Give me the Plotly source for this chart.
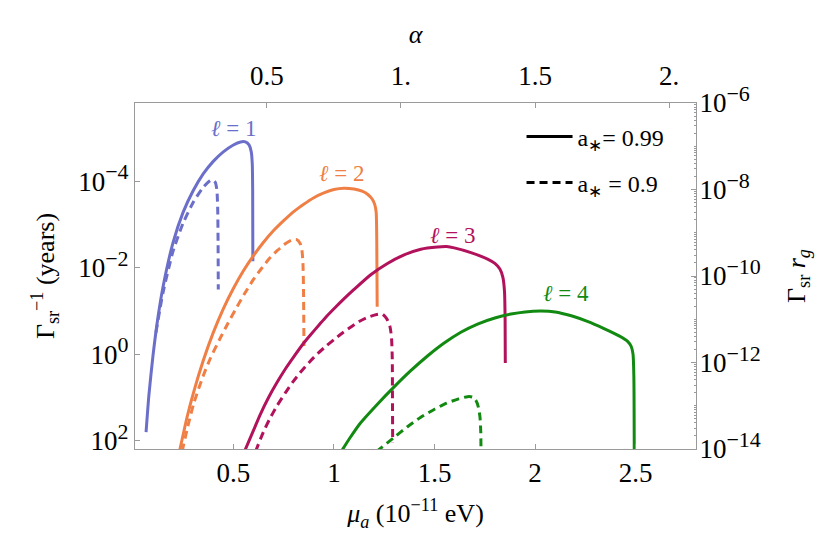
import numpy as np
import plotly.graph_objects as go

# ---------------- data ----------------
# mu_a in units of 1e-11 eV ; *_lg values are log10 of Gamma_sr^-1 in years
l1_solid_mu = [0.066, 0.080, 0.100, 0.125, 0.150, 0.200, 0.250, 0.300, 0.350, 0.400, 0.450, 0.500, 0.536, 0.560, 0.578, 0.589, 0.594, 0.596, 0.597]
l1_solid_lg = [1.80, 0.95, 0.05, -0.85, -1.55, -2.58, -3.28, -3.78, -4.17, -4.46, -4.68, -4.84, -4.91, -4.91, -4.84, -4.68, -4.40, -3.80, -2.15]

l1_dash_mu = [0.115, 0.150, 0.200, 0.250, 0.300, 0.350, 0.380, 0.396, 0.410, 0.418, 0.422, 0.424, 0.425]
l1_dash_lg = [-0.50, -1.42, -2.38, -3.03, -3.51, -3.86, -4.00, -4.04, -3.98, -3.80, -3.40, -2.60, -1.50]

l2_solid_mu = [0.232, 0.270, 0.304, 0.350, 0.400, 0.450, 0.500, 0.550, 0.600, 0.650, 0.700, 0.750, 0.800, 0.850, 0.900, 0.950, 1.000, 1.050, 1.100, 1.140, 1.167, 1.190, 1.203, 1.210, 1.213, 1.215]
l2_solid_lg = [2.25, 1.45, 0.85, 0.15, -0.50, -1.05, -1.52, -1.93, -2.28, -2.59, -2.86, -3.09, -3.30, -3.47, -3.62, -3.73, -3.81, -3.84, -3.82, -3.77, -3.70, -3.59, -3.46, -3.28, -2.60, -1.10]

l2_dash_mu = [0.245, 0.275, 0.304, 0.350, 0.387, 0.430, 0.470, 0.510, 0.553, 0.600, 0.636, 0.680, 0.719, 0.760, 0.790, 0.815, 0.832, 0.841, 0.846, 0.849, 0.851]
l2_dash_lg = [2.25, 1.64, 1.12, 0.50, 0.08, -0.33, -0.69, -1.03, -1.38, -1.73, -1.96, -2.22, -2.40, -2.56, -2.64, -2.65, -2.56, -2.40, -2.10, -1.40, -0.19]

l3_solid_mu = [0.555, 0.600, 0.633, 0.675, 0.716, 0.760, 0.800, 0.850, 0.882, 0.930, 0.964, 1.010, 1.047, 1.100, 1.183, 1.266, 1.349, 1.432, 1.515, 1.560, 1.598, 1.681, 1.764, 1.800, 1.825, 1.840, 1.848, 1.851, 1.852]
l3_solid_lg = [2.25, 1.76, 1.40, 1.00, 0.66, 0.33, 0.06, -0.26, -0.44, -0.70, -0.88, -1.10, -1.27, -1.50, -1.84, -2.10, -2.30, -2.43, -2.48, -2.49, -2.46, -2.35, -2.20, -2.10, -1.97, -1.78, -1.45, -0.80, 0.20]

l3_dash_mu = [0.610, 0.649, 0.680, 0.716, 0.760, 0.799, 0.840, 0.882, 0.920, 0.964, 1.000, 1.047, 1.090, 1.130, 1.170, 1.213, 1.240, 1.263, 1.278, 1.286, 1.290, 1.291, 1.292]
l3_dash_lg = [2.25, 1.80, 1.50, 1.20, 0.88, 0.62, 0.38, 0.16, -0.02, -0.20, -0.34, -0.51, -0.65, -0.77, -0.86, -0.92, -0.93, -0.82, -0.65, -0.40, 0.10, 1.00, 2.04]

l4_solid_mu = [1.036, 1.080, 1.130, 1.215, 1.298, 1.382, 1.465, 1.548, 1.631, 1.714, 1.800, 1.880, 1.950, 2.029, 2.100, 2.180, 2.260, 2.340, 2.420, 2.460, 2.478, 2.487, 2.491, 2.493]
l4_solid_lg = [2.25, 1.93, 1.60, 1.16, 0.76, 0.38, 0.04, -0.26, -0.51, -0.70, -0.84, -0.93, -0.98, -1.00, -0.98, -0.89, -0.76, -0.60, -0.42, -0.30, -0.18, 0.00, 0.50, 2.25]

l4_dash_mu = [1.211, 1.300, 1.364, 1.430, 1.500, 1.560, 1.620, 1.664, 1.690, 1.706, 1.718, 1.726, 1.730, 1.731]
l4_dash_lg = [2.25, 1.92, 1.68, 1.46, 1.27, 1.13, 1.03, 0.98, 0.99, 1.07, 1.22, 1.45, 1.80, 2.25]

series = [
    ("l1", l1_solid_mu, l1_solid_lg, l1_dash_mu, l1_dash_lg, "#6B6FC9"),
    ("l2", l2_solid_mu, l2_solid_lg, l2_dash_mu, l2_dash_lg, "#EF7F45"),
    ("l3", l3_solid_mu, l3_solid_lg, l3_dash_mu, l3_dash_lg, "#B2125B"),
    ("l4", l4_solid_mu, l4_solid_lg, l4_dash_mu, l4_dash_lg, "#128A12"),
]

labels = ["<i>ℓ</i> = 1", "<i>ℓ</i> = 2", "<i>ℓ</i> = 3", "<i>ℓ</i> = 4"]
label_mu = [0.505, 1.042, 1.59, 2.152]
label_lg = [-5.23, -4.19, -2.74, -1.40]

bottom_ticks = [0.5, 1, 1.5, 2, 2.5]
bottom_ticktext = ["0.5", "1", "1.5", "2", "2.5"]
top_ticks = [0.5, 1, 1.5, 2]
top_ticktext = ["0.5", "1.", "1.5", "2."]
left_exps = [-4, -2, 0, 2]
right_exps = [-6, -8, -10, -12, -14]

alpha_per_mu = 0.75
mu_range = [0.011, 2.8]
left_range = [2.19, -5.81]
right_range = [-14, -6]

FONT = "Liberation Serif"
GRAY = "#9a9a9a"
DASH = "8px,5px"
TICK_SIZE = 27
TITLE_SIZE = 26
SUP_SIZE = 22


def pow10(e):
    sign = "−" if e < 0 else ""
    return "10<sup><span style='font-size:%dpx'>%s%d</span></sup>" % (SUP_SIZE, sign, abs(e))


fig = go.Figure()
for name, smu, slg, dmu, dlg, col in series:
    fig.add_trace(go.Scatter(x=smu, y=10.0 ** np.array(slg), mode="lines",
                             line=dict(color=col, width=3, shape="spline", smoothing=0.6),
                             showlegend=False, hoverinfo="skip"))
    fig.add_trace(go.Scatter(x=dmu, y=10.0 ** np.array(dlg), mode="lines",
                             line=dict(color=col, width=3, dash=DASH, shape="spline", smoothing=0.6),
                             showlegend=False, hoverinfo="skip"))

# legend entries
fig.add_trace(go.Scatter(x=[None], y=[None], mode="lines", line=dict(color="black", width=3),
                         name="a<sub>∗</sub>= 0.99", legend="legend"))
fig.add_trace(go.Scatter(x=[None], y=[None], mode="lines", line=dict(color="black", width=3, dash=DASH),
                         name="a<sub>∗</sub> = 0.9", legend="legend2"))

# anchor trace for the secondary (top / right) axes
fig.add_trace(go.Scatter(x=[1.0], y=[1e-10], xaxis="x2", yaxis="y2", mode="lines",
                         line=dict(width=0), showlegend=False, hoverinfo="skip"))

for txt, m, lg, (_, _, _, _, _, col) in zip(labels, label_mu, label_lg, series):
    fig.add_annotation(x=m, y=lg, xref="x", yref="y", text=txt, showarrow=False,
                       font=dict(family=FONT, size=23, color=col))

minor_vals = []
for d in range(-14, -6):
    for k in range(2, 10):
        minor_vals.append(k * 10.0 ** d)
    if d % 2 != 0:
        minor_vals.append(10.0 ** d)

axis_common = dict(showline=True, linecolor=GRAY, linewidth=1, showgrid=False, zeroline=False,
                   ticks="inside", ticklen=5, tickcolor=GRAY, tickwidth=1, automargin=False,
                   tickfont=dict(family=FONT, size=TICK_SIZE, color="black"))

fig.update_layout(
    width=830, height=539, autosize=False,
    margin=dict(l=127, r=142, t=95, b=98),
    paper_bgcolor="white", plot_bgcolor="white",
    font=dict(family=FONT, size=TICK_SIZE, color="black"),
    xaxis=dict(range=mu_range, tickmode="array", tickvals=bottom_ticks, ticktext=bottom_ticktext,
               title=dict(text="<i>μ<sub>a</sub></i> (10<sup>−11</sup> eV)", font=dict(family=FONT, size=TITLE_SIZE), standoff=16),
               **axis_common),
    xaxis2=dict(range=[mu_range[0] * alpha_per_mu, mu_range[1] * alpha_per_mu], overlaying="x", side="top",
                anchor="y", tickmode="array", tickvals=top_ticks, ticktext=top_ticktext,
                ticklabelstandoff=6,
                title=dict(text="<i>α</i>", font=dict(family=FONT, size=TITLE_SIZE), standoff=10),
                **axis_common),
    yaxis=dict(type="log", range=left_range, tickmode="array",
               tickvals=[10.0 ** e for e in left_exps],
               ticktext=[pow10(e) for e in left_exps],
               title=dict(text="Γ<sub>sr</sub><sup>−1</sup> (years)", font=dict(family=FONT, size=TITLE_SIZE), standoff=16),
               **axis_common),
    yaxis2=dict(type="log", range=right_range, overlaying="y", side="right", anchor="x",
                tickmode="array", tickvals=[10.0 ** e for e in right_exps],
                ticktext=[pow10(e) for e in right_exps],
                ticklabelstandoff=-3,
                minor=dict(tickmode="array", tickvals=minor_vals, ticks="inside", ticklen=2,
                           tickcolor=GRAY, showgrid=False),
                title=dict(text="Γ<sub>sr</sub> <i>r<sub>g</sub></i>", font=dict(family=FONT, size=TITLE_SIZE), standoff=26),
                **axis_common),
    legend=dict(x=0.689, y=0.902, xanchor="left", yanchor="middle", bgcolor="rgba(0,0,0,0)",
                font=dict(family=FONT, size=24), itemwidth=46),
    legend2=dict(x=0.689, y=0.769, xanchor="left", yanchor="middle", bgcolor="rgba(0,0,0,0)",
                 font=dict(family=FONT, size=24), itemwidth=46),
)

fig.write_html("out.html")
